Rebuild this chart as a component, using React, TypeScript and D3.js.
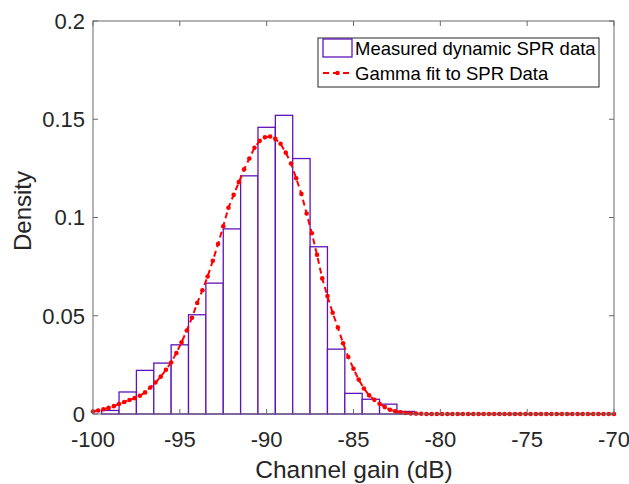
import React from "react";
import * as d3 from "d3";

// Histogram bins (bin centres, dB) and densities
const binCenters = [-99, -98, -97, -96, -95, -94, -93, -92, -91, -90, -89, -88, -87, -86, -85, -84, -83, -82];
const binDensity = [0.0018, 0.0112, 0.0222, 0.0259, 0.0352, 0.0505, 0.0666, 0.0942, 0.1212, 0.1459, 0.152, 0.130, 0.0851, 0.033, 0.0105, 0.0075, 0.005, 0.0013];
const binWidth = 1;

// Gamma fit curve, sampled every 0.3 dB from -100 to -70
const fitStart = -100;
const fitStep = 0.3;
const fitDensity = [
  0.0013, 0.0018, 0.0024, 0.0031, 0.0040, 0.0051, 0.0061, 0.0071, 0.0081, 0.0093,
  0.0110, 0.0135, 0.0160, 0.0190, 0.0225, 0.0262, 0.0310, 0.0365, 0.0425, 0.0490,
  0.0565, 0.0630, 0.0700, 0.0780, 0.0865, 0.0955, 0.1050, 0.1115, 0.1180, 0.1245,
  0.1300, 0.1355, 0.1390, 0.1408, 0.1412, 0.1400, 0.1375, 0.1330, 0.1275, 0.1200,
  0.1120, 0.1020, 0.0920, 0.0810, 0.0690, 0.0600, 0.0515, 0.0440, 0.0360, 0.0290,
  0.0230, 0.0175, 0.0130, 0.0095, 0.0072, 0.0052, 0.0035, 0.0022, 0.0014, 0.0009,
  0.0005, 0.0003, 0.0002, 0.0001, 0, 0, 0, 0, 0, 0,
  0, 0, 0, 0, 0, 0, 0, 0, 0, 0,
  0, 0, 0, 0, 0, 0, 0, 0, 0, 0,
  0, 0, 0, 0, 0, 0, 0, 0, 0, 0,
  0,
];

const xTicks = [-100, -95, -90, -85, -80, -75, -70];
const yTicks = [0, 0.05, 0.1, 0.15, 0.2];
const yTickLabels = ["0", "0.05", "0.1", "0.15", "0.2"];

const xLabel = "Channel gain (dB)";
const yLabel = "Density";
const legendLabels = ["Measured dynamic SPR data", "Gamma fit to SPR Data"];

const W = 629;
const H = 484;
const left = 93;
const right = 614;
const top = 21;
const bottom = 414;

const barColor = "#5f14b8";
const fitColor = "#ff0000";
const axisColor = "#262626";
const font = "'Liberation Sans', Arial, Helvetica, sans-serif";

export default function App() {
  const x = d3.scaleLinear().domain([-100, -70]).range([left, right]);
  const y = d3.scaleLinear().domain([0, 0.2]).range([bottom, top]);

  const fitPts: [number, number][] = fitDensity.map((d, i) => [fitStart + i * fitStep, d]);
  const line = d3
    .line<[number, number]>()
    .x((d) => x(d[0]))
    .y((d) => y(d[1]));

  const tickLen = 5;
  const lgX = 318, lgY = 38, lgW = 281, lgH = 49;

  return (
    <svg width={W} height={H} style={{ position: "absolute", left: 0, top: 0, background: "#fff" }} fontFamily={font}>
      <rect x={0} y={0} width={W} height={H} fill="#fff" />
      {/* bars */}
      {binCenters.map((c, i) => (
        <rect
          key={i}
          x={x(c - binWidth / 2)}
          y={y(binDensity[i])}
          width={x(c + binWidth / 2) - x(c - binWidth / 2)}
          height={y(0) - y(binDensity[i])}
          fill="#fff"
          stroke={barColor}
          strokeWidth={1.3}
        />
      ))}
      {/* fit curve */}
      <path d={line(fitPts) || ""} fill="none" stroke={fitColor} strokeWidth={2} strokeDasharray="6 4" />
      {fitPts.map((p, i) => (
        <circle key={i} cx={x(p[0])} cy={y(p[1])} r={2.3} fill={fitColor} />
      ))}
      {/* axes box */}
      <rect x={left} y={top} width={right - left} height={bottom - top} fill="none" stroke="#6a6a6a" strokeWidth={1} />
      {xTicks.map((t) => (
        <g key={"xt" + t}>
          <line x1={x(t)} x2={x(t)} y1={bottom} y2={bottom - tickLen} stroke="#6a6a6a" />
          <line x1={x(t)} x2={x(t)} y1={top} y2={top + tickLen} stroke="#6a6a6a" />
          <text x={x(t)} y={447} textAnchor="middle" fontSize={22} fill={axisColor}>
            {t}
          </text>
        </g>
      ))}
      {yTicks.map((t, i) => (
        <g key={"yt" + t}>
          <line x1={left} x2={left + tickLen} y1={y(t)} y2={y(t)} stroke="#6a6a6a" />
          <line x1={right} x2={right - tickLen} y1={y(t)} y2={y(t)} stroke="#6a6a6a" />
          <text x={85} y={y(t)} dy="0.36em" textAnchor="end" fontSize={22} fill={axisColor}>
            {yTickLabels[i]}
          </text>
        </g>
      ))}
      <text x={354} y={478} textAnchor="middle" fontSize={24.5} fill={axisColor}>
        {xLabel}
      </text>
      <text transform={`translate(31,${211}) rotate(-90)`} textAnchor="middle" fontSize={24} fill={axisColor}>
        {yLabel}
      </text>
      {/* legend */}
      <rect x={lgX} y={lgY} width={lgW} height={lgH} fill="#fff" stroke={axisColor} strokeWidth={1} />
      <rect x={323} y={39} width={29} height={18} fill="#fff" stroke={barColor} strokeWidth={1.3} />
      <text x={355} y={48} dy="0.36em" fontSize={18.5} fill="#000">
        {legendLabels[0]}
      </text>
      <line x1={323} x2={352} y1={73} y2={73} stroke={fitColor} strokeWidth={2} strokeDasharray="6 4" />
      <circle cx={337.5} cy={73} r={2.3} fill={fitColor} />
      <text x={355} y={73} dy="0.36em" fontSize={18.5} fill="#000">
        {legendLabels[1]}
      </text>
    </svg>
  );
}
